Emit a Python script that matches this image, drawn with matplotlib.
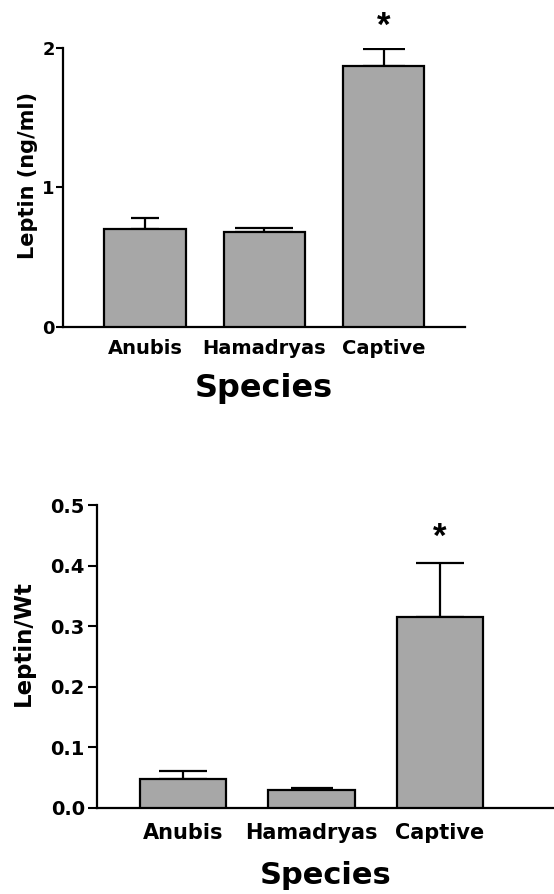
import numpy as np
import matplotlib.pyplot as plt

plt.rcParams['font.family'] = 'DejaVu Sans'
plt.rcParams['font.weight'] = 'bold'
plt.rcParams['axes.labelweight'] = 'bold'

# data
species = ['Anubis', 'Hamadryas', 'Captive']
leptin = [0.70, 0.675, 1.87]
leptin_err = [0.077, 0.03, 0.118]
leptin_wt = [0.047, 0.029, 0.315]
leptin_wt_err = [0.0135, 0.004, 0.089]
star_top = 2.15
star_bottom = 0.446

bar_color = '#a7a7a7'
x = np.arange(len(species))

fig = plt.figure(figsize=(5.54, 8.94), dpi=100)

# top panel: Leptin (ng/ml)
ax1 = fig.add_axes([0.1137, 0.6346, 0.7256, 0.3121])
ax1.bar(x, leptin, width=0.68, color=bar_color, edgecolor='black', linewidth=1.6, zorder=3)
caps1 = [10, 21, 15]
for i in range(len(x)):
    ax1.errorbar(x[i], leptin[i], yerr=[[0], [leptin_err[i]]], fmt='none',
                 ecolor='black', elinewidth=1.6, capsize=caps1[i], capthick=1.6, zorder=2)
ax1.text(x[2], star_top, '*', ha='center', va='center', fontsize=25,
         family='Liberation Sans', fontweight='bold', clip_on=False)
ax1.set_xlim(-0.686, 2.68)
ax1.set_ylim(0, 2)
ax1.set_yticks([0, 1, 2])
ax1.set_xticks(x, species)
ax1.tick_params(axis='x', length=0, pad=9, labelsize=14)
ax1.tick_params(axis='y', length=5, width=1.5, labelsize=13, pad=1)
ax1.spines['top'].set_visible(False)
ax1.spines['right'].set_visible(False)
ax1.spines['left'].set_linewidth(1.6)
ax1.spines['bottom'].set_linewidth(1.6)
ax1.set_ylabel('Leptin (ng/ml)', fontsize=15)
ax1.yaxis.set_label_coords(-0.062, 0.54)
ax1.set_xlabel('Species', fontsize=23, labelpad=11)

# bottom panel: Leptin/Wt
ax2 = fig.add_axes([0.1745, 0.0965, 0.8255, 0.3386])
ax2.bar(x, leptin_wt, width=0.674, color=bar_color, edgecolor='black', linewidth=1.6, zorder=3)
caps2 = [17, 15, 17]
for i in range(len(x)):
    ax2.errorbar(x[i], leptin_wt[i], yerr=[[0], [leptin_wt_err[i]]], fmt='none',
                 ecolor='black', elinewidth=1.6, capsize=caps2[i], capthick=1.6, zorder=2)
ax2.text(x[2], star_bottom, '*', ha='center', va='center', fontsize=25,
         family='Liberation Sans', fontweight='bold', clip_on=False)
ax2.set_xlim(-0.675, 2.89)
ax2.set_ylim(0, 0.5)
ax2.set_yticks([0.0, 0.1, 0.2, 0.3, 0.4, 0.5])
ax2.set_yticklabels(['0.0', '0.1', '0.2', '0.3', '0.4', '0.5'])
ax2.set_xticks(x, species)
ax2.tick_params(axis='x', length=0, pad=11, labelsize=15)
ax2.tick_params(axis='y', length=6.5, width=1.5, labelsize=14, pad=2)
ax2.spines['top'].set_visible(False)
ax2.spines['right'].set_visible(False)
ax2.spines['left'].set_linewidth(1.6)
ax2.spines['bottom'].set_linewidth(1.6)
ax2.set_ylabel('Leptin/Wt', fontsize=16.5)
ax2.yaxis.set_label_coords(-0.135, 0.544)
ax2.set_xlabel('Species', fontsize=22, labelpad=13)

fig.savefig('out.png', dpi=100)
